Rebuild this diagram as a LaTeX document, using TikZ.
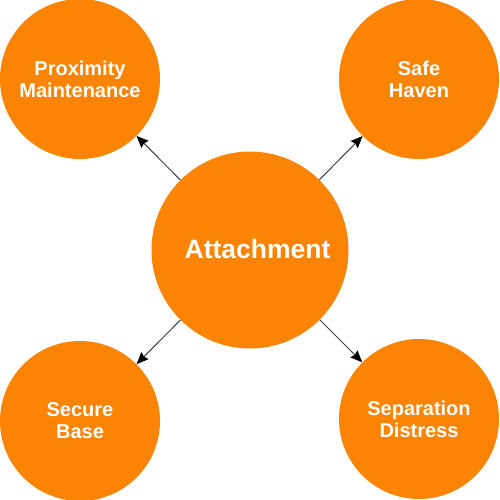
\documentclass[tikz,border=0pt]{standalone}
\usepackage{fontspec}
\setmainfont{Liberation Sans}
\usetikzlibrary{arrows.meta}
\definecolor{orng}{RGB}{252,132,4}
\definecolor{linegray}{RGB}{64,64,64}
\tikzset{
  bigcirc/.style={circle, fill=orng, inner sep=0pt, minimum size=197pt, text=white, font=\bfseries\fontsize{26}{30}\selectfont},
  smallcirc/.style={circle, fill=orng, inner sep=0pt, minimum size=160pt, text=white, align=center, font=\bfseries\fontsize{20}{22}\selectfont},
  arr/.style={draw=linegray, line width=1pt, -{Stealth[length=12pt,width=10pt,inset=1.5pt,color=black]}}
}
\begin{document}
\begin{tikzpicture}[x=1pt,y=-1pt]
\useasboundingbox (0,0) rectangle (500,500);
\node[bigcirc] (c) at (250,250) {};
\node[text=white, font=\bfseries\fontsize{26.5}{30}\selectfont, anchor=base] (ct) at (257.5,258) {Attachment};
\node[smallcirc] (tl) at (80,79) {Proximity\\Maintenance};
\node[smallcirc] (tr) at (419,79) {Safe\\Haven};
\node[smallcirc] (bl) at (80,421) {Secure\\Base};
\node[smallcirc] (br) at (419,419) {Separation\\Distress};
\draw[arr] (c) -- (tl);
\draw[arr] (c) -- (tr);
\draw[arr] (c) -- (bl);
\draw[arr] (c) -- (br);
\end{tikzpicture}
\end{document}
